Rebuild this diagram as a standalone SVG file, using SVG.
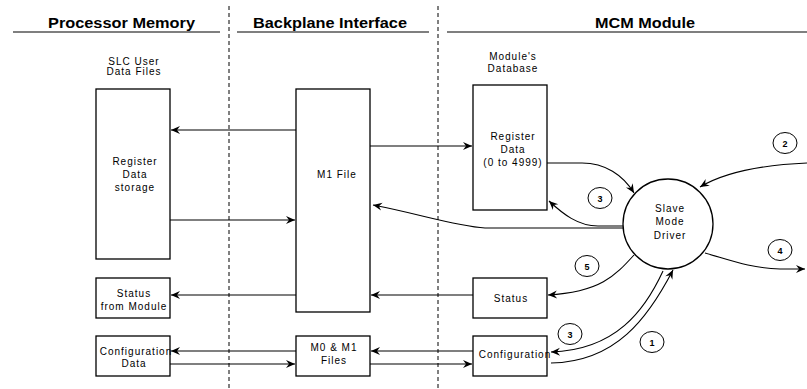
<svg xmlns="http://www.w3.org/2000/svg" width="807" height="389" viewBox="0 0 807 389">
<style>
  .hdr{font-family:"Liberation Sans",Arial,sans-serif;font-weight:bold;font-size:14px;fill:#000}
  .t{font-family:"Liberation Sans",Arial,sans-serif;font-size:10px;letter-spacing:1px;fill:#000;text-anchor:middle}
  .n{font-family:"Liberation Sans",Arial,sans-serif;font-size:9px;font-weight:bold;fill:#000;text-anchor:middle}
  .box{fill:#fff;stroke:#000;stroke-width:1.3}
  .rule{stroke:#000;stroke-width:1.2}
  .dash{stroke:#000;stroke-width:1;stroke-dasharray:4 3}
  .c{fill:none;stroke:#000;stroke-width:1.1;marker-end:url(#ah)}
  .lc{fill:#fff;stroke:#000;stroke-width:1}
</style>
<defs>
  <marker id="ah" markerUnits="userSpaceOnUse" markerWidth="12" markerHeight="10" viewBox="-10 -5 12 10" refX="0" refY="0" orient="auto">
    <path d="M0,0 L-9,-4 L-6,0 L-9,4 Z" fill="#000"/>
  </marker>
</defs>
<rect width="807" height="389" fill="#fff"/>

<g id="headers">
  <text class="hdr" x="48" y="28" textLength="147" lengthAdjust="spacingAndGlyphs">Processor Memory</text>
  <text class="hdr" x="253" y="28" textLength="154" lengthAdjust="spacingAndGlyphs">Backplane Interface</text>
  <text class="hdr" x="595" y="28" textLength="100" lengthAdjust="spacingAndGlyphs">MCM Module</text>
  <line class="rule" x1="13" y1="32" x2="220" y2="32"/>
  <line class="rule" x1="237" y1="32" x2="429" y2="32"/>
  <line class="rule" x1="447" y1="32" x2="807" y2="32"/>
  <line class="dash" x1="229" y1="6" x2="229" y2="389"/>
  <line class="dash" x1="438" y1="6" x2="438" y2="389"/>
</g>

<g id="connectors">
  <path class="c" d="M296,130 L171,130"/>
  <path class="c" d="M170,220 L295,220"/>
  <path class="c" d="M370,146 L472,146"/>
  <path class="c" d="M547,163 L582,163 C605,163 623,175 634,193"/>
  <path class="c" d="M623,226 L598,226 C578,226 563,214 549,201"/>
  <path class="c" d="M623,228 L485,228 C455,226 420,214 373,205"/>
  <path class="c" d="M807,163 C760,165 725,172 700,187"/>
  <path class="c" d="M705,253 C730,260 750,268 780,269 L805,269"/>
  <path class="c" d="M634,255 C615,276 600,292 548,295"/>
  <path class="c" d="M473,295 L371,295"/>
  <path class="c" d="M296,295 L171,295"/>
  <path class="c" d="M296,351 L171,351"/>
  <path class="c" d="M170,364 L295,364"/>
  <path class="c" d="M473,351 L371,351"/>
  <path class="c" d="M370,364 L472,364"/>
  <path class="c" d="M663,271 C645,310 616,350 551,352"/>
  <path class="c" d="M551,363 C616,362 648,318 673,270"/>
</g>

<g id="slc-user-data-files">
  <text class="t" x="134" y="65">SLC User</text>
  <text class="t" x="134" y="75">Data Files</text>
</g>

<g id="register-data-storage">
  <rect class="box" x="96" y="89" width="74" height="170"/>
  <text class="t" x="135" y="165">Register</text>
  <text class="t" x="135" y="178">Data</text>
  <text class="t" x="135" y="191">storage</text>
</g>

<g id="status-from-module">
  <rect class="box" x="96" y="278" width="74" height="40"/>
  <text class="t" x="134" y="297">Status</text>
  <text class="t" x="134" y="310">from Module</text>
</g>

<g id="configuration-data">
  <rect class="box" x="96" y="336" width="74" height="40"/>
  <text class="t" x="136" y="355">Configuration</text>
  <text class="t" x="134" y="367">Data</text>
</g>

<g id="m1-file">
  <rect class="box" x="296" y="89" width="74" height="223"/>
  <text class="t" x="337" y="178">M1 File</text>
</g>

<g id="m0-m1-files">
  <rect class="box" x="296" y="336" width="74" height="40"/>
  <text class="t" x="334" y="351">M0 &amp; M1</text>
  <text class="t" x="334" y="364">Files</text>
</g>

<g id="module-database">
  <text class="t" x="513" y="60">Module's</text>
  <text class="t" x="513" y="72">Database</text>
  <rect class="box" x="473" y="85" width="74" height="125"/>
  <text class="t" x="513" y="140">Register</text>
  <text class="t" x="513" y="153">Data</text>
  <text class="t" x="513" y="166">(0 to 4999)</text>
</g>

<g id="status">
  <rect class="box" x="473" y="278" width="74" height="40"/>
  <text class="t" x="511" y="302">Status</text>
</g>

<g id="configuration">
  <rect class="box" x="473" y="336" width="74" height="40"/>
  <text class="t" x="515" y="358">Configuration</text>
</g>

<g id="slave-mode-driver">
  <circle class="box" cx="668" cy="224" r="45"/>
  <text class="t" x="670" y="212">Slave</text>
  <text class="t" x="670" y="225">Mode</text>
  <text class="t" x="670" y="239">Driver</text>
</g>

<g id="step-labels">
  <g id="step-2"><ellipse class="lc" cx="785" cy="143" rx="12" ry="10.5"/><text class="n" x="785" y="146.5">2</text></g>
  <g id="step-3a"><ellipse class="lc" cx="600" cy="198" rx="12" ry="10.5"/><text class="n" x="600" y="201.5">3</text></g>
  <g id="step-4"><ellipse class="lc" cx="780" cy="250" rx="12" ry="10.5"/><text class="n" x="780" y="253.5">4</text></g>
  <g id="step-5"><ellipse class="lc" cx="587" cy="266" rx="12" ry="10.5"/><text class="n" x="587" y="269.5">5</text></g>
  <g id="step-3b"><ellipse class="lc" cx="570" cy="334" rx="12" ry="10.5"/><text class="n" x="570" y="337.5">3</text></g>
  <g id="step-1"><ellipse class="lc" cx="652" cy="342" rx="12" ry="10.5"/><text class="n" x="652" y="345.5">1</text></g>
</g>
</svg>
